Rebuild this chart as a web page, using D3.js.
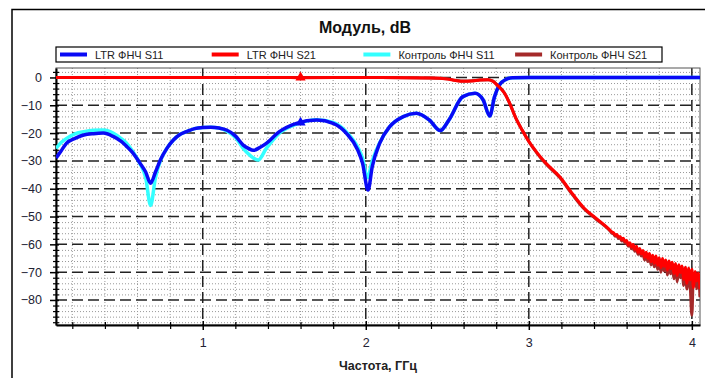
<!DOCTYPE html>
<html><head><meta charset="utf-8">
<script src="https://cdn.jsdelivr.net/npm/d3@7"></script>
<style>html,body{margin:0;padding:0;background:#fff}svg{display:block}</style>
</head><body>
<svg id="c" width="705" height="378"></svg>
<script>
const titleText = "Модуль, dB";
const xLabel = "Частота, ГГц";
const seriesNames = ["LTR ФНЧ S11", "LTR ФНЧ S21", "Контроль ФНЧ S11", "Контроль ФНЧ S21"];
const seriesColors = ["#0a0af5", "#ff0000", "#33ffff", "#a52a2a"];
const xTicks = [1, 2, 3, 4];
const yTicks = [0, -10, -20, -30, -40, -50, -60, -70, -80];

const ltrS11Freq = [0.10,0.13,0.165,0.22,0.27,0.33,0.39,0.45,0.50,0.53,0.57,0.615,0.65,0.68,0.71,0.74,0.78,0.82,0.86,0.90,0.95,1.00,1.05,1.10,1.146,1.20,1.248,1.28,1.31,1.35,1.39,1.47,1.575,1.70,1.80,1.88,1.95,1.98,2.014,2.04,2.085,2.147,2.23,2.31,2.39,2.457,2.51,2.595,2.67,2.72,2.76,2.79,2.82,2.86,2.90,3.00,4.05];
const ltrS11 = [-29,-26.5,-23.6,-21.8,-20.7,-20.2,-20,-21.2,-23,-24.6,-27,-30.8,-34,-38,-34,-29.7,-25.5,-22.5,-20.5,-19.5,-18.4,-18,-17.9,-18.2,-18.9,-21,-24.3,-25.5,-26.2,-25.2,-23.7,-19.5,-16.5,-15.3,-16.5,-20,-26,-30.8,-40.5,-32,-23.7,-17.7,-14.1,-12.9,-15.3,-19.1,-15.3,-6.9,-5.7,-8.1,-13.9,-6.9,-2.7,-0.7,-0.1,0,0];

const ctrlS11Freq = [0.10,0.13,0.165,0.22,0.27,0.33,0.39,0.45,0.50,0.53,0.57,0.615,0.65,0.68,0.71,0.74,0.78,0.82,0.86,0.90,0.95,1.00,1.05,1.10,1.146,1.20,1.248,1.29,1.34,1.39,1.47,1.575,1.70,1.80,1.88,1.95,1.98,2.01,2.04,2.085,2.147,2.23,2.31,2.39,2.457,2.51,2.595,2.67,2.72,2.76,2.79,2.82,2.86,2.90,3.00,4.05];
const ctrlS11 = [-25.5,-23.5,-21.9,-20.2,-19.5,-19,-18.9,-20,-22,-23.5,-26.5,-31,-36,-46,-36,-30,-25.5,-22.5,-20.5,-19.5,-18.4,-18,-17.9,-18.2,-19.2,-21.5,-25.5,-28,-29.7,-25.5,-20,-16.8,-15.2,-16.2,-19.5,-25,-29,-36,-30,-23.5,-17.7,-14.1,-12.9,-15.3,-19.1,-15.3,-6.9,-5.7,-8.1,-13.9,-6.9,-2.7,-0.7,-0.1,0,0];

const s21Freq = [0.10,0.50,1.00,1.50,1.58,1.60,1.62,2.00,2.40,2.50,2.55,2.60,2.65,2.70,2.75,2.78,2.81,2.85,2.88,2.92,2.96,3.00,3.05,3.10,3.19,3.27,3.34,3.41,
  3.50,3.51,3.52,3.53,3.54,3.55,3.56,3.57,3.58,3.59,3.60,3.61,3.62,3.63,3.64,3.65,3.66,3.67,3.68,3.69,3.70,3.71,3.72,3.73,3.74,3.75,3.76,3.77,3.78,3.79,3.80,3.81,3.82,3.83,3.84,3.85,3.86,3.87,3.88,3.89,3.90,3.91,3.92,3.93,3.94,3.95,3.96,3.97,3.98,3.99,4.00,4.01,4.02,4.03,4.04,4.05];
const ltrS21 = [0,0,0,0,-0.1,0,-0.1,0,-0.2,-0.6,-1.1,-1.4,-1.3,-0.9,-0.8,-1.4,-3,-5.6,-9,-14.6,-19,-23,-27,-30.5,-35.7,-42,-47,-50.5,
  -55.0,-55.6,-55.9,-56.6,-56.5,-57.4,-57.2,-58.3,-57.8,-59.0,-58.6,-60.2,-59.4,-61.0,-60.1,-61.8,-60.7,-62.9,-61.5,-63.4,-62.2,-64.6,-62.8,-65.1,-63.3,-66.2,-63.9,-66.8,-64.2,-67.5,-64.8,-68.4,-65.1,-67.9,-65.6,-69.3,-66.0,-68.7,-66.4,-70.5,-66.9,-71.2,-67.3,-70.1,-67.8,-72.6,-68.2,-74.0,-68.5,-72.8,-69.0,-75.5,-69.8,-73.2,-70.4,-76.0];
const ctrlS21 = [0,0,0,0,0,0,0,0,-0.2,-0.5,-1.0,-1.3,-1.2,-0.9,-0.8,-1.3,-2.9,-5.5,-8.9,-14.5,-19,-23,-27.2,-30.8,-36,-42.3,-47.3,-50.8,
  -55.3,-56.0,-56.2,-57.1,-56.9,-57.9,-57.6,-58.8,-58.3,-59.6,-59.1,-60.7,-60.0,-61.6,-60.7,-62.5,-61.4,-63.6,-62.2,-64.2,-63.0,-65.6,-63.6,-66.2,-64.1,-67.4,-64.8,-68.1,-65.2,-69.0,-65.7,-70.0,-66.1,-69.6,-66.6,-71.0,-67.0,-70.6,-67.4,-72.4,-67.9,-73.5,-68.3,-72.0,-68.8,-74.8,-69.2,-76.1,-69.5,-75.0,-85.5,-70.8,-71.4,-76.0,-71.0,-79.0];

const markers = [{f:1.60, v:0, c:1}, {f:1.60, v:-16.2, c:0}];

const svg = d3.select("#c");
const W = 705, H = 378;
const L = 56, R = 700, T = 68, B = 325;
const x = d3.scaleLinear().domain([0.1, 4.05]).range([L, R]);
const y = d3.scaleLinear().domain([-89, 3.4]).range([B, T]);
const font = "'Liberation Sans', Arial, sans-serif";

svg.append("rect").attr("width", W).attr("height", H).attr("fill", "#fff");
svg.append("rect").attr("x", 12).attr("y", 9.5).attr("width", 720).attr("height", 400)
  .attr("fill", "none").attr("stroke", "#000").attr("stroke-width", 1.5);

svg.append("text").attr("x", 365).attr("y", 33).attr("text-anchor", "middle")
  .attr("font-family", font).attr("font-weight", "bold").attr("font-size", 16).attr("fill", "#111").text(titleText);

// legend
const lg = svg.append("g");
lg.append("rect").attr("x", 56).attr("y", 47).attr("width", 606).attr("height", 15)
  .attr("fill", "#fff").attr("stroke", "#000").attr("stroke-width", 1.2);
seriesNames.forEach((n, i) => {
  const x0 = 60 + i * 151.7;
  lg.append("line").attr("x1", x0).attr("x2", x0 + 27).attr("y1", 54.5).attr("y2", 54.5)
    .attr("stroke", seriesColors[i]).attr("stroke-width", 4);
  lg.append("text").attr("x", x0 + 35).attr("y", 58.5).attr("font-family", font)
    .attr("font-size", 11).attr("fill", "#222").text(n);
});

// minor grid
const g = svg.append("g");
const minorX = d3.range(2, 41, 2).map(d => d / 10).filter(d => !xTicks.includes(d));
const minorY = d3.range(-88, 4, 2).filter(d => d % 10 !== 0);
g.selectAll(".mx").data(minorX).join("line").attr("x1", d => x(d)).attr("x2", d => x(d))
  .attr("y1", T).attr("y2", B).attr("stroke", "#999").attr("stroke-width", 1).attr("stroke-dasharray", "1,2");
g.selectAll(".my").data(minorY).join("line").attr("x1", L).attr("x2", R)
  .attr("y1", d => y(d) + 0.5).attr("y2", d => y(d) + 0.5).attr("stroke", "#999").attr("stroke-width", 1).attr("stroke-dasharray", "1,2");
// major grid
g.selectAll(".Mx").data(xTicks).join("line").attr("x1", d => x(d)).attr("x2", d => x(d))
  .attr("y1", T).attr("y2", B).attr("stroke", "#222").attr("stroke-width", 1.5).attr("stroke-dasharray", "11,5");
g.selectAll(".My").data(yTicks).join("line").attr("x1", L).attr("x2", R)
  .attr("y1", d => y(d)).attr("y2", d => y(d)).attr("stroke", "#222").attr("stroke-width", 1.5).attr("stroke-dasharray", "11,5");

// plot border
svg.append("rect").attr("x", L).attr("y", T).attr("width", R - L).attr("height", B - T)
  .attr("fill", "none").attr("stroke", "#555").attr("stroke-width", 1);

// axes
const yAxis = d3.axisLeft(y).tickValues(yTicks).tickSize(6).tickSizeOuter(0).tickPadding(8);
const ya = svg.append("g").attr("transform", `translate(${L},0)`).call(yAxis);
ya.select(".domain").attr("stroke", "#000").attr("stroke-width", 2);
ya.selectAll(".tick line").attr("stroke", "#000").attr("stroke-width", 1.5).attr("x2", -6).attr("x1", 3);
ya.selectAll("text").attr("font-family", font).attr("font-size", 12.5).attr("fill", "#223");
const yMinorAx = d3.axisLeft(y).tickValues(minorY).tickSize(3).tickFormat("");
const ym = svg.append("g").attr("transform", `translate(${L},0)`).call(yMinorAx);
ym.select(".domain").remove();
ym.selectAll(".tick line").attr("stroke", "#000").attr("stroke-width", 1.2).attr("x1", 3);

const xAxis = d3.axisBottom(x).tickValues(xTicks).tickSize(5).tickSizeOuter(0).tickPadding(8).tickFormat(d3.format("d"));
const xa = svg.append("g").attr("transform", `translate(0,${B})`).call(xAxis);
xa.select(".domain").attr("stroke", "#000").attr("stroke-width", 2);
xa.selectAll(".tick line").attr("stroke", "#000").attr("stroke-width", 1.5).attr("y1", -4);
xa.selectAll("text").attr("font-family", font).attr("font-size", 12.5).attr("fill", "#223");
const xMinorAx = d3.axisBottom(x).tickValues(minorX).tickSize(4).tickFormat("");
const xm = svg.append("g").attr("transform", `translate(0,${B})`).call(xMinorAx);
xm.select(".domain").remove();
xm.selectAll(".tick line").attr("stroke", "#000").attr("stroke-width", 1.2).attr("y1", -3);

svg.append("text").attr("x", 378).attr("y", 370).attr("text-anchor", "middle")
  .attr("font-family", font).attr("font-weight", "bold").attr("font-size", 12.5).attr("fill", "#222").text(xLabel);

// lines
svg.append("clipPath").attr("id", "clip").append("rect").attr("x", L).attr("y", T - 2).attr("width", R - L).attr("height", B - T + 2);
const lines = svg.append("g").attr("clip-path", "url(#clip)");
const lineGen = d3.line().x(d => x(d[0])).y(d => y(d[1])).curve(d3.curveMonotoneX);
const zip = (a, b) => a.map((f, i) => [f, b[i]]);
const drawOrder = [
  {f: ctrlS11Freq, v: ctrlS11, c: 2, w: 3.5},
  {f: ltrS11Freq, v: ltrS11, c: 0, w: 3.5},
  {f: s21Freq, v: ctrlS21, c: 3, w: 3},
  {f: s21Freq, v: ltrS21, c: 1, w: 3}
];
drawOrder.forEach(s => {
  lines.append("path").attr("d", lineGen(zip(s.f, s.v))).attr("fill", "none")
    .attr("stroke", seriesColors[s.c]).attr("stroke-width", s.w).attr("stroke-linejoin", "round");
});
lines.selectAll(".mk").data(markers).join("path")
  .attr("transform", d => `translate(${x(d.f)},${y(d.v)})`)
  .attr("d", d3.symbol(d3.symbolTriangle, 45)).attr("fill", d => seriesColors[d.c]);
</script>
</body></html>
